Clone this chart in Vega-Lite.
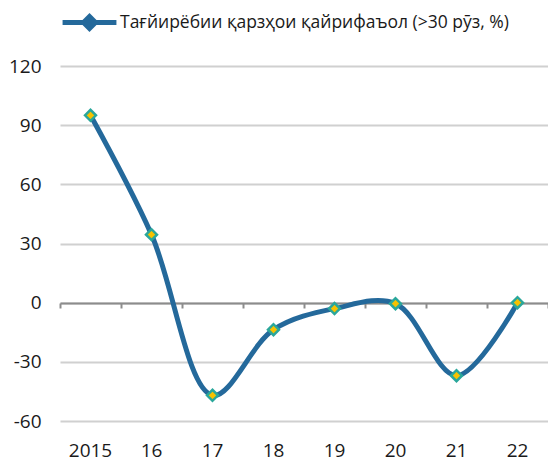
{
  "$schema": "https://vega.github.io/schema/vega-lite/v6.json",
  "width": 488,
  "height": 355,
  "autosize": {"type": "none"},
  "padding": {"left": 60, "top": 66, "right": 0, "bottom": 40},
  "background": "white",
  "config": {
    "view": {"stroke": null},
    "font": "Open Sans",
    "axis": {"labelFont": "Open Sans", "labelFontSize": 19, "labelColor": "#1a1a1a"},
    "legend": {"labelFont": "Open Sans", "labelFontSize": 17.5, "labelColor": "#1a1a1a", "labelLimit": 0}
  },
  "data": {
    "values": [
      {"year": "2015", "value": 95},
      {"year": "16", "value": 34.5},
      {"year": "17", "value": -47},
      {"year": "18", "value": -13.7},
      {"year": "19", "value": -3},
      {"year": "20", "value": -0.5},
      {"year": "21", "value": -37},
      {"year": "22", "value": 0}
    ]
  },
  "encoding": {
    "x": {
      "field": "year",
      "type": "ordinal",
      "sort": null,
      "scale": {"paddingInner": 0, "paddingOuter": 0}
    },
    "y": {
      "field": "value",
      "type": "quantitative",
      "scale": {"domain": [-60, 120], "nice": false, "zero": false},
      "axis": {
        "values": [-60, -30, 0, 30, 60, 90, 120],
        "labelExpr": "toString(datum.value)",
        "grid": true,
        "gridColor": "#d0d0d0",
        "gridWidth": 2,
        "domain": false,
        "ticks": false,
        "labelPadding": 19,
        "title": null
      }
    }
  },
  "layer": [
    {
      "mark": {"type": "line", "interpolate": "catmull-rom", "strokeWidth": 5, "strokeCap": "round"},
      "encoding": {
        "x": {
          "field": "year",
          "type": "ordinal",
          "sort": null,
          "axis": {
            "orient": "bottom",
            "labelAngle": 0,
            "domain": false,
            "ticks": false,
            "labelPadding": 20,
            "title": null
          }
        },
        "color": {
          "datum": "Тағйирёбии қарзҳои қайрифаъол (>30 рӯз, %)",
          "scale": {"range": ["#24699b"]},
          "legend": {
            "title": null,
            "orient": "top",
            "offset": 27,
            "symbolType": "M-1,0L1,0M0,-0.22L0.22,0L0,0.22L-0.22,0Z",
            "symbolSize": 2900,
            "symbolStrokeWidth": 5,
            "labelOffset": 1
          }
        }
      }
    },
    {
      "mark": {"type": "point", "shape": "diamond", "filled": true, "size": 120, "fill": "#f7c200", "stroke": "#2aa79b", "strokeWidth": 2.5, "opacity": 1},
      "encoding": {
        "x": {
          "field": "year",
          "type": "ordinal",
          "sort": null,
          "axis": {
            "orient": "bottom",
            "offset": -118,
            "labels": false,
            "domain": true,
            "domainColor": "#8c8c8c",
            "domainWidth": 2,
            "ticks": true,
            "tickBand": "extent",
            "tickColor": "#8c8c8c",
            "tickWidth": 2,
            "tickSize": 5,
            "title": null
          }
        }
      }
    }
  ],
  "resolve": {"axis": {"x": "independent"}}
}
